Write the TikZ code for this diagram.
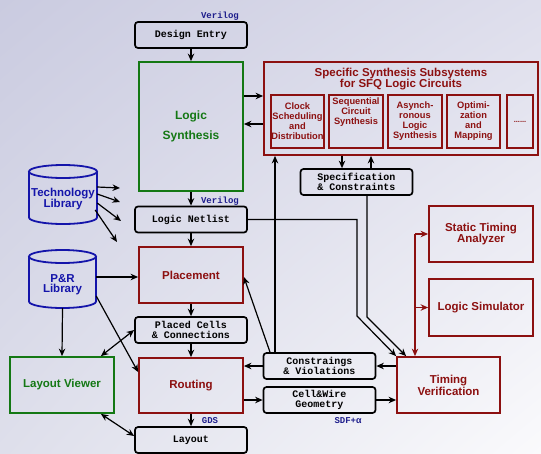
\documentclass[tikz,border=0pt]{standalone}
\usepackage{fontspec}
\setmainfont{Liberation Sans}
\newfontfamily\monof{Liberation Mono}
\usetikzlibrary{arrows.meta,shadings}
\definecolor{dred}{RGB}{140,16,16}
\definecolor{dgreen}{RGB}{20,120,20}
\definecolor{dblue}{RGB}{20,20,170}
\definecolor{lblue}{RGB}{30,30,140}
\definecolor{bgUL}{RGB}{202,203,224}
\definecolor{bgUR}{RGB}{222,222,236}
\definecolor{bgLL}{RGB}{222,223,235}
\definecolor{bgLR}{RGB}{250,250,252}
\tikzset{
  mbox/.style={draw=black, line width=1.7pt, rounded corners=3pt, minimum width=112pt, minimum height=26pt, inner sep=0pt, font=\monof\bfseries\fontsize{10}{10}\selectfont, align=center},
  rbox/.style={draw=dred, line width=1.8pt, minimum width=104pt, minimum height=56pt, inner sep=0pt, text=dred, font=\bfseries\fontsize{11.5}{10.5}\selectfont, align=center},
  gbox/.style={rbox, draw=dgreen, text=dgreen},
  ibox/.style={draw=dred, line width=1.6pt, minimum height=53pt, inner sep=0pt, text=dred, font=\bfseries\fontsize{9.3}{10}\selectfont, align=center},
  arr/.style={-{Stealth[length=7.5pt,width=6.5pt]}, line width=1.2pt},
  darr/.style={{Stealth[length=7.5pt,width=6.5pt]}-{Stealth[length=7.5pt,width=6.5pt]}, line width=1.2pt},
  rarr/.style={arr, draw=dred, fill=dred},
  lbl/.style={font=\monof\bfseries\fontsize{9}{9}\selectfont, text=lblue, inner sep=0pt},
  libline/.style={draw=dblue, line width=1.8pt},
  libtext/.style={text=dblue, font=\bfseries\fontsize{11.5}{10}\selectfont, align=center, inner sep=0pt}
}
\begin{document}
\begin{tikzpicture}[x=1pt,y=-1pt]
\shade[shading=bilinear interpolation, upper left=bgUL, upper right=bgUR, lower left=bgLL, lower right=bgLR] (0,0) rectangle (541,453);
\useasboundingbox (0,0) rectangle (541,453);

% libraries (cylinders)
\draw[libline] (29,171.5) -- (29,217.5) arc[start angle=180, end angle=360, x radius=34pt, y radius=6.5pt] -- (97,171.5);
\draw[libline] (63,171.5) ellipse [x radius=34pt, y radius=6.5pt];
\node[libtext, minimum width=68pt, minimum height=50pt] (tl) at (63,199) {Technology\\Library};

\draw[libline] (29,256.5) -- (29,301.5) arc[start angle=180, end angle=360, x radius=33.5pt, y radius=6.5pt] -- (96,256.5);
\draw[libline] (62.5,256.5) ellipse [x radius=33.5pt, y radius=6.5pt];
\node[libtext, minimum width=67pt, minimum height=46pt] (pr) at (62.5,285) {P\&R\\Library};

% central column
\node[mbox] (de) at (191,35) {Design Entry};
\node[gbox, minimum height=129pt, font=\bfseries\fontsize{12}{20}\selectfont] (ls) at (191,126.5) {Logic\\Synthesis};
\node[mbox] (ln) at (191,219.5) {Logic Netlist};
\node[rbox] (pl) at (191,275) {Placement};
\node[mbox] (pc) at (191,330) {Placed Cells\\\& Connections};
\node[rbox, minimum height=55pt] (ro) at (191,385.5) {Routing};
\node[mbox] (lay) at (191,440) {Layout};
\node[gbox] (lv) at (62,385) {Layout Viewer};

% subsystems
\node[rbox, minimum width=274pt, minimum height=93pt] (sss) at (401,108.5) {};
\node[text=dred, font=\bfseries\fontsize{11.5}{11}\selectfont, align=center, inner sep=0pt] (ssst) at (401,79) {Specific Synthesis Subsystems\\for SFQ Logic Circuits};
\node[ibox, minimum width=53pt] (b1) at (297.5,121.5) {Clock\\Scheduling\\and\\Distribution};
\node[ibox, minimum width=54pt] (b2) at (356,121.5) {Sequential\\Circuit\\Synthesis\\[10pt]};
\node[ibox, minimum width=54pt] (b3) at (415,121.5) {Asynch-\\ronous\\Logic\\Synthesis};
\node[ibox, minimum width=53pt] (b4) at (473.5,121.5) {Optimi-\\zation\\and\\Mapping};
\node[ibox, minimum width=26pt, font=\bfseries\fontsize{7.5}{7.5}\selectfont] (b5) at (520,121.5) {......};

\node[mbox] (sc) at (356.5,182) {Specification\\\& Constraints};
\node[mbox] (cv) at (319.5,366) {Constraings\\\& Violations};
\node[mbox] (cw) at (319.5,400) {Cell\&Wire\\Geometry};
\node[rbox, minimum width=103pt] (tv) at (448.5,385) {Timing\\Verification};
\node[rbox] (sta) at (481,234) {Static Timing\\Analyzer};
\node[rbox, minimum height=57pt] (lsim) at (481,307.5) {Logic Simulator};

% small labels
\node[lbl] (v1) at (220,16) {Verilog};
\node[lbl] (v2) at (220,201) {Verilog};
\node[lbl] (gds) at (210,421) {GDS};
\node[lbl] (sdf) at (348,421) {SDF+α};

% central flow
\draw[arr] (de.south) -- (ls.north);
\draw[arr] (ls.south) -- (ln.north);
\draw[arr] (ln.south) -- (pl.north);
\draw[arr] (pl.south) -- (pc.north);
\draw[arr] (pc.south) -- (ro.north);
\draw[arr] (ro.south) -- (lay.north);

% synthesis <-> subsystems
\draw[arr] (ls.east |- 0,96) -- (sss.west |- 0,96);
\draw[arr] (sss.west |- 0,124) -- (ls.east |- 0,124);
\draw[arr] (sss.south -| 342,0) -- (sc.north -| 342,0);
\draw[arr] (sc.north -| 371,0) -- (sss.south -| 371,0);
\draw[arr] (cv.north -| 275,0) -- (sss.south -| 275,0);
\draw[arr] (cv.north -| 270,0) -- (pl.east |- 0,277);

% to timing verification
\draw[arr] (ln.east) -- (357,219.5) -- (357,316) -- (tv.north west);
\draw[arr] (sc.south -| 367,0) -- (367,317) -- ([xshift=10pt]tv.north west);
\coordinate (rt) at (415,234);
\draw[rarr] (rt) -- (tv.north -| rt);
\draw[rarr] (rt) -- (sta.west);
\draw[rarr] (rt |- lsim.west) -- (lsim.west);
\draw[arr] (cv.west) -- (ro.east |- cv.west);
\draw[arr] (tv.west |- cv.west) -- (cv.east);
\draw[arr] (ro.east |- cw.west) -- (cw.west);
\draw[arr] (cw.east) -- (tv.west |- cw.east);

% technology library arrows
\coordinate (t1) at (120,188);
\coordinate (t2) at (120,202);
\coordinate (t3) at (121,221);
\coordinate (t4) at (117,242);
\draw[arr] (tl.east |- 0,187) -- (t1);
\draw[arr] (tl.east |- 0,194) -- (t2);
\draw[arr] (tl.east |- 0,203) -- (t3);
\draw[arr] ([xshift=-2pt]tl.east |- 0,210) -- (t4);

% P&R library
\draw[arr] (pr.east |- 0,277) -- (pl.west |- 0,277);
\draw[arr] (pr.south) -- (lv.north);
\draw[arr] (pr.east |- 0,296) -- (ro.west |- 0,372);
\draw[darr] ([xshift=-14pt]lv.north east) -- (pc.west);
\draw[darr] ([xshift=-14pt]lv.south east) -- (lay.west |- 0,436);
\end{tikzpicture}
\end{document}
